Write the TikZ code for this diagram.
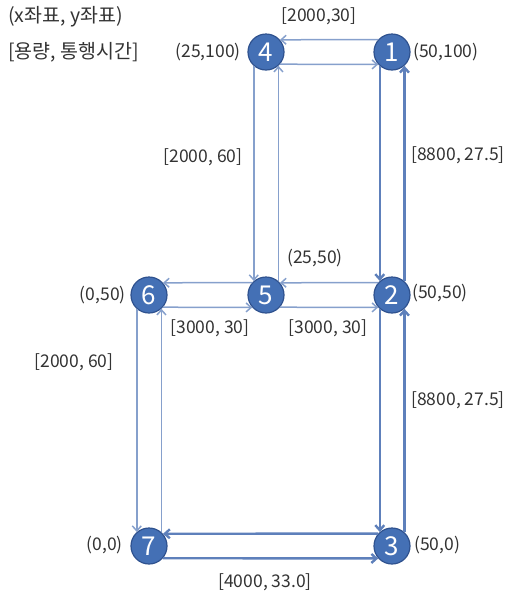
\documentclass[tikz,border=0pt]{standalone}
\usepackage{fontspec}
\setmainfont{Noto Sans CJK KR}
\usetikzlibrary{arrows.meta}
\definecolor{nodefill}{HTML}{4470B5}
\definecolor{nodeedge}{HTML}{2F528F}
\definecolor{thinline}{HTML}{86A0CC}
\definecolor{thickline}{HTML}{5E80BB}
\tikzset{
  vert/.style={circle, fill=nodefill, draw=nodeedge, line width=1.2pt, minimum size=36pt, inner sep=0pt, text=white, font=\fontsize{26}{26}\selectfont},
  lbl/.style={font=\fontsize{17.5}{17.5}\selectfont, text=black!80, inner sep=0pt},
  leglbl/.style={font=\fontsize{19.5}{19.5}\selectfont, text=black!80, inner sep=0pt},
  thinarr/.style={draw=thinline, line width=1.5pt, -{Straight Barb[length=5pt,width=9pt]}},
  thickarr/.style={draw=thickline, line width=2.4pt, -{Straight Barb[length=5pt,width=9pt]}}
}
\begin{document}
\begin{tikzpicture}[x=1pt,y=-1pt]
\useasboundingbox (0,0) rectangle (512,598);
% nodes
\node[vert] (n1) at (392,52) {1};
\node[vert] (n4) at (266,52) {4};
\node[vert] (n5) at (266,295) {5};
\node[vert] (n2) at (392,295) {2};
\node[vert] (n6) at (149,295) {6};
\node[vert] (n7) at (149,546) {7};
\node[vert] (n3) at (392,546) {3};
% edges 1-4
\draw[thinarr] (n1.138.2) -- (n4.41.8);
\draw[thinarr] (n4.-41.8) -- (n1.-138.2);
% edges 4-5
\draw[thinarr] (n4.-131.8) -- (n5.131.8);
\draw[thinarr] (n5.48.2) -- (n4.-48.2);
% edges 1-2
\draw[thickarr] (n1.-131.8) -- (n2.131.8);
\draw[thickarr] (n2.48.2) -- (n1.-48.2);
% edges 2-5
\draw[thinarr] (n2.138.2) -- (n5.41.8);
\draw[thinarr] (n5.-41.8) -- (n2.-138.2);
% edges 5-6
\draw[thinarr] (n5.138.2) -- (n6.41.8);
\draw[thinarr] (n6.-41.8) -- (n5.-138.2);
% edges 6-7
\draw[thinarr] (n6.-131.8) -- (n7.131.8);
\draw[thinarr] (n7.48.2) -- (n6.-48.2);
% edges 2-3
\draw[thickarr] (n2.-131.8) -- (n3.131.8);
\draw[thickarr] (n3.48.2) -- (n2.-48.2);
% edges 3-7
\draw[thickarr] (n3.138.2) -- (n7.41.8);
\draw[thickarr] (n7.-41.8) -- (n3.-138.2);
% legend
\node[leglbl, anchor=west] (leg1) at (8,17) {(x좌표, y좌표)};
\node[leglbl, anchor=west] (leg2) at (8,52) {[용량, 통행시간]};
% coordinates
\node[lbl, anchor=east] (c4) at (241,52) {(25,100)};
\node[lbl, anchor=west] (c1) at (413,52) {(50,100)};
\node[lbl] (c5) at (315,258) {(25,50)};
\node[lbl, anchor=west] (c2) at (412,293) {(50,50)};
\node[lbl, anchor=east] (c6) at (126,295) {(0,50)};
\node[lbl, anchor=east] (c7) at (123,545) {(0,0)};
\node[lbl, anchor=west] (c3) at (414,545) {(50,0)};
% capacities
\node[lbl] (e14) at (319,16) {[2000,30]};
\node[lbl] (e45) at (203,157) {[2000, 60]};
\node[lbl] (e12) at (458,155) {[8800, 27.5]};
\node[lbl] (e56) at (210,328) {[3000, 30]};
\node[lbl] (e52) at (328,328) {[3000, 30]};
\node[lbl] (e67) at (74,362) {[2000, 60]};
\node[lbl] (e23) at (458,400) {[8800, 27.5]};
\node[lbl] (e73) at (265,582) {[4000, 33.0]};
\end{tikzpicture}
\end{document}
